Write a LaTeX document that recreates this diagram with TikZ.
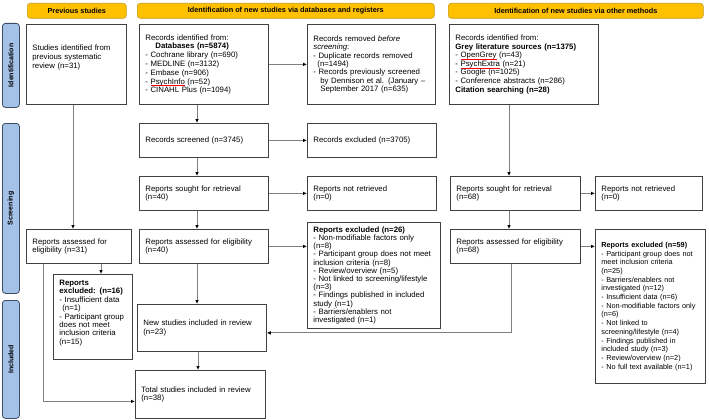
\documentclass[tikz,border=0pt]{standalone}
\usepackage{fontspec}
\setmainfont{Liberation Sans}
\usetikzlibrary{arrows.meta,calc}
\definecolor{hdrfill}{HTML}{FFC000}
\definecolor{hdrdraw}{HTML}{C89A10}
\definecolor{sidefill}{HTML}{A4C2E8}
\definecolor{sidedraw}{HTML}{3C4E66}
\definecolor{boxdraw}{HTML}{404040}
\definecolor{linegray}{HTML}{808080}
\newsavebox\sqbox
\newcommand\sq[1]{\leavevmode\sbox\sqbox{#1}\rlap{\raisebox{-1.8pt}{\textcolor{red}{\rule{\wd\sqbox}{0.5pt}}}}\usebox\sqbox}
\begin{document}
\begin{tikzpicture}[x=1pt,y=-1pt,
  every node/.style={font=\fontsize{7.8}{8.6}\selectfont},
  bx/.style={draw=boxdraw, line width=0.8pt, anchor=north west, inner xsep=6pt, inner ysep=2pt, align=left},
  hdr/.style={draw=hdrdraw, fill=hdrfill, rounded corners=3pt, line width=0.6pt, anchor=north west, inner sep=0pt, align=center, font=\fontsize{7.3}{8.8}\selectfont\bfseries},
  side/.style={draw=sidedraw, fill=sidefill, rounded corners=3pt, line width=0.8pt, anchor=north west, inner sep=0pt},
  sidetxt/.style={rotate=90, font=\fontsize{7}{8}\selectfont\bfseries},
  arr/.style={draw=linegray, line width=0.9pt, -{Latex[length=4pt,width=3.6pt,color=black]}}
]
\useasboundingbox (0,0) rectangle (709,420);
\fill[white] (0,0) rectangle (709,420);

% headers
\node[hdr, minimum width=99pt, minimum height=15pt] (h1) at (27,3) {Previous studies};
\node[hdr, minimum width=297pt, minimum height=15pt] (h2) at (137,3) {Identification of new studies via databases and registers};
\node[hdr, minimum width=255pt, minimum height=15pt] (h3) at (448,3) {Identification of new studies via other methods};

% side bars
\node[side, minimum width=17pt, minimum height=84pt] (s1) at (2,23) {};
\node[sidetxt] (s1t) at (s1.center) {Identification};
\node[side, minimum width=17pt, minimum height=170pt] (s2) at (2,123) {};
\node[sidetxt] (s2t) at (s2.center) {Screening};
\node[side, minimum width=17pt, minimum height=118pt] (s3) at (2,300) {};
\node[sidetxt] (s3t) at (s3.center) {Included};

% previous studies column
\node[bx, minimum width=100pt, minimum height=80pt, text width=88pt] (prev) at (26,24)
  {Studies identified from\\previous systematic\\review (n=31)\\[7pt]\mbox{}};
\node[bx, minimum width=105pt, minimum height=34pt, text width=93pt] (passess) at (26,229)
  {Reports assessed for\\eligibility (n=31)};
\node[bx, minimum width=79pt, minimum height=85pt, text width=67pt, font=\fontsize{7.8}{8.4}\selectfont] (pexcl) at (53,274)
  {\textbf{Reports}\\\textbf{excluded: (n=16)}\\- Insufficient data\\\hspace*{3pt}(n=1)\\- Participant group\\does not meet\\inclusion criteria\\(n=15)\\[1pt]\mbox{}};

% databases column
\node[bx, minimum width=129pt, minimum height=80pt, text width=117pt, font=\fontsize{7.8}{8.8}\selectfont] (recid) at (139,24)
  {Records identified from:\\\hspace*{10pt}\textbf{Databases (n=5874)}\\- Cochrane library (n=690)\\- MEDLINE (n=3132)\\- Embase (n=906)\\- \sq{PsychInfo} (n=52)\\- CINAHL Plus (n=1094)};
\node[bx, minimum width=128pt, minimum height=80pt, text width=116pt, font=\fontsize{7.8}{8.4}\selectfont] (recrem) at (307,24)
  {Records removed \textit{before}\\\textit{screening}:\\- Duplicate records removed\\\hspace*{4pt}(n=1494)\\- Records previously screened\\\hspace*{7pt}by Dennison et al. (January --\\\hspace*{7pt}September 2017 (n=635)};
\node[bx, minimum width=129pt, minimum height=34pt, text width=117pt] (scr) at (139,123)
  {Records screened (n=3745)};
\node[bx, minimum width=129pt, minimum height=34pt, text width=117pt] (exc) at (307,123)
  {Records excluded (n=3705)};
\node[bx, minimum width=129pt, minimum height=34pt, text width=117pt] (sought) at (139,176)
  {Reports sought for retrieval\\(n=40)};
\node[bx, minimum width=129pt, minimum height=34pt, text width=117pt] (notret) at (307,176)
  {Reports not retrieved\\(n=0)};
\node[bx, minimum width=129pt, minimum height=34pt, text width=117pt] (assess) at (139,229)
  {Reports assessed for eligibility\\(n=40)};
\node[bx, minimum width=133pt, minimum height=106pt, text width=121pt, font=\fontsize{7.8}{8.2}\selectfont] (excl) at (307,222)
  {\textbf{Reports excluded (n=26)}\\- Non-modifiable factors only\\(n=8)\\- Participant group does not meet\\inclusion criteria (n=8)\\- Review/overview (n=5)\\- Not linked to screening/lifestyle\\(n=3)\\- Findings published in included\\study (n=1)\\- Barriers/enablers not\\investigated (n=1)};
\node[bx, minimum width=129pt, minimum height=47pt, text width=117pt] (newinc) at (137,304)
  {New studies included in review\\(n=23)};
\node[bx, minimum width=130pt, minimum height=48pt, text width=118pt] (total) at (135,370)
  {Total studies included in review\\(n=38)};

% other methods column
\node[bx, minimum width=149pt, minimum height=80pt, text width=137pt, font=\fontsize{7.8}{8.6}\selectfont] (grey) at (449,24)
  {Records identified from:\\\textbf{Grey literature sources (n=1375)}\\- \sq{OpenGrey} (n=43)\\- \sq{PsychExtra} (n=21)\\- Google (n=1025)\\- Conference abstracts (n=286)\\\textbf{Citation searching (n=28)}};
\node[bx, minimum width=130pt, minimum height=34pt, text width=118pt] (osought) at (450,176)
  {Reports sought for retrieval\\(n=68)};
\node[bx, minimum width=107pt, minimum height=34pt, text width=95pt] (onotret) at (595,176)
  {Reports not retrieved\\(n=0)};
\node[bx, minimum width=130pt, minimum height=34pt, text width=118pt] (oassess) at (450,229)
  {Reports assessed for eligibility\\(n=68)};
\node[bx, minimum width=110pt, minimum height=154pt, text width=98pt, font=\fontsize{7.3}{8.7}\selectfont] (oexcl) at (595,229)
  {\textbf{Reports excluded (n=59)}\\- Participant group does not\\meet inclusion criteria\\(n=25)\\- Barriers/enablers not\\investigated (n=12)\\- Insufficient data (n=6)\\- Non-modifiable factors only\\(n=6)\\- Not linked to\\screening/lifestyle (n=4)\\- Findings published in\\included study (n=3)\\- Review/overview (n=2)\\- No full text available (n=1)};

% connectors: previous studies
\draw[arr] ([xshift=47pt]prev.south west) -- ([xshift=47pt]prev.south west |- passess.north);
\draw[arr] ([xshift=75pt]passess.south west) -- ([xshift=75pt]passess.south west |- pexcl.north);
\draw[arr] ([xshift=17pt]passess.south west) |- ([yshift=-7pt]total.west);

% connectors: databases
\draw[arr] (recid.east) -- (recrem.west);
\draw[arr] ([xshift=58pt]recid.south west) -- ([xshift=58pt]scr.north west);
\draw[arr] (scr.east) -- (exc.west);
\draw[arr] ([xshift=58pt]scr.south west) -- ([xshift=58pt]sought.north west);
\draw[arr] (sought.east) -- (notret.west);
\draw[arr] ([xshift=58pt]sought.south west) -- ([xshift=58pt]assess.north west);
\draw[arr] (assess.east) -- (assess.east -| excl.west);
\draw[arr] ([xshift=58pt]assess.south west) -- ([xshift=60pt]newinc.north west);
\draw[arr] ([xshift=61pt]newinc.south west) -- ([xshift=63pt]total.north west);

% connectors: other methods
\draw[arr] ([xshift=60pt]grey.south west) -- ([xshift=59pt]osought.north west);
\draw[arr] (osought.east) -- (onotret.west);
\draw[arr] ([xshift=59pt]osought.south west) -- ([xshift=59pt]oassess.north west);
\draw[arr] (oassess.east) -- (oassess.east -| oexcl.west);
\draw[arr] ([xshift=61pt]oassess.south west) |- ([yshift=-5pt]newinc.east);
\end{tikzpicture}
\end{document}
